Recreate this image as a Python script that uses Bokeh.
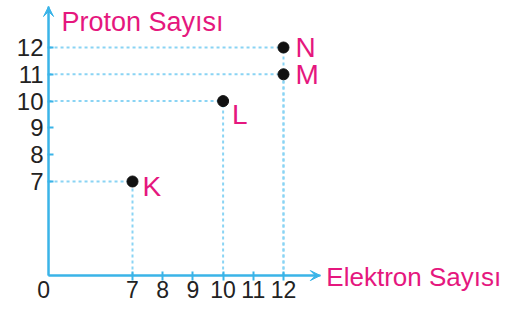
from bokeh.plotting import figure
from bokeh.models import FixedTicker, Arrow, VeeHead, Range1d
from bokeh.embed import file_html
from bokeh.resources import INLINE
from bokeh.core.properties import value

# ---- data ----
names = ["K", "L", "M", "N"]
electrons = [7, 10, 12, 12]
protons = [7, 10, 11, 12]
x_ticks = [7, 8, 9, 10, 11, 12]
y_ticks = [7, 8, 9, 10, 11, 12]
x_title = "Elektron Sayısı"
y_title = "Proton Sayısı"
origin_label = "0"

# broken-axis origin and arrow ends (axis geometry)
X0, Y0 = 4.22, 3.49
XE, YE = 13.22, 13.53

AXIS = "#3AB4E8"
DOT = "#8AD4F4"
PINK = "#E5177E"
FONT = "Liberation Sans"

p = figure(width=502, height=302,
           x_range=Range1d(2.629, 19.252), y_range=Range1d(2.485, 13.754),
           output_backend="svg", toolbar_location=None, min_border=0)
p.grid.visible = False
p.outline_line_color = None

for ax, loc, bounds, ticks in ((p.xaxis, Y0, (X0, XE), x_ticks), (p.yaxis, X0, (Y0, YE), y_ticks)):
    ax.fixed_location = loc
    ax.bounds = bounds
    ax.ticker = FixedTicker(ticks=ticks)
    ax.minor_tick_line_color = None
    ax.axis_line_color = AXIS
    ax.axis_line_width = 2
    ax.major_tick_line_color = AXIS
    ax.major_tick_line_width = 2
    ax.major_label_text_font = FONT
    ax.major_label_text_color = "#222222"

p.xaxis.major_label_text_font_size = "23px"
p.yaxis.major_label_text_font_size = "24px"
p.xaxis.major_tick_in = 4
p.xaxis.major_tick_out = 5
p.xaxis.major_label_standoff = 0
p.yaxis.major_tick_in = 5
p.yaxis.major_tick_out = 1
p.yaxis.major_label_standoff = 4

# arrows
p.add_layout(Arrow(end=VeeHead(size=10, fill_color=AXIS, line_color=AXIS, line_width=1),
                   x_start=X0, y_start=Y0, x_end=XE, y_end=Y0,
                   line_color=AXIS, line_width=2))
p.add_layout(Arrow(end=VeeHead(size=10, fill_color=AXIS, line_color=AXIS, line_width=1),
                   x_start=X0, y_start=Y0, x_end=X0, y_end=YE,
                   line_color=AXIS, line_width=2))

# dotted guide lines
n = len(names)
p.segment(x0=[X0] * n, y0=protons, x1=electrons, y1=protons,
          line_color=DOT, line_width=2, line_dash="3 3")
p.segment(x0=electrons, y0=[Y0] * n, x1=electrons, y1=protons,
          line_color=DOT, line_width=2, line_dash="3 3")

# points
p.scatter(electrons, protons, size=11, color="#111111")

# point labels
label_offsets = {"K": (10, 5), "L": (9, 13), "M": (12, 0), "N": (12, 0)}
for nm, ex, pr in zip(names, electrons, protons):
    dx, dy = label_offsets[nm]
    p.text([ex], [pr], text=[nm], x_offset=dx, y_offset=dy,
           text_font=value(FONT), text_font_size="28px", text_color=PINK,
           text_baseline="middle", text_align="left")

# axis titles
p.text([X0], [YE], text=[y_title], x_offset=13, y_offset=15,
       text_font=value(FONT), text_font_size="27px", text_color=PINK,
       text_baseline="alphabetic", text_align="left")
p.text([XE], [Y0], text=[x_title], x_offset=6, y_offset=1,
       text_font=value(FONT), text_font_size="26px", text_color=PINK,
       text_baseline="middle", text_align="left")

# origin label
p.text([X0], [Y0], text=[origin_label], x_offset=-5, y_offset=5,
       text_font=value(FONT), text_font_size="23px", text_color="#222222",
       text_baseline="top", text_align="center")

open("out.html", "w").write(file_html(p, INLINE))
